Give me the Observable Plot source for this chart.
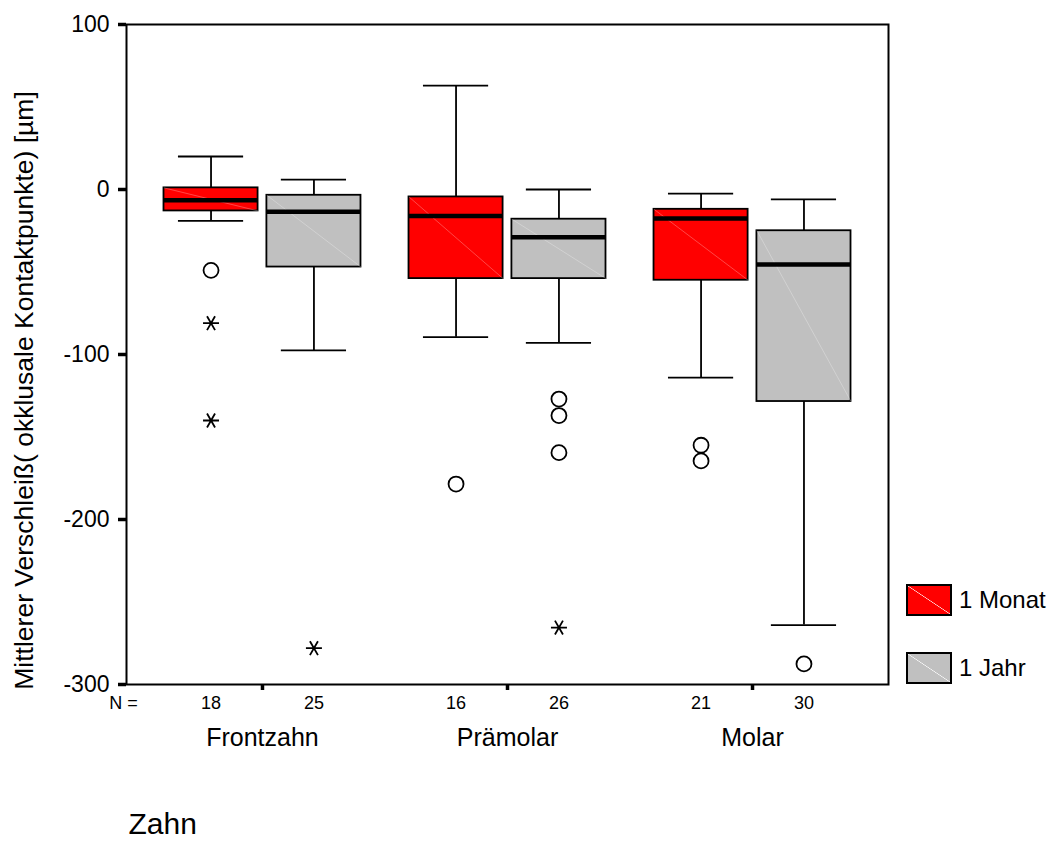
<!DOCTYPE html>
<html>
<head>
<meta charset="utf-8">
<script src="https://cdn.jsdelivr.net/npm/d3@7"></script>
<script src="https://cdn.jsdelivr.net/npm/@observablehq/plot@0.6"></script>
<style>
  html, body { margin: 0; padding: 0; background: #fff; }
  #chart { position: relative; width: 1059px; height: 841px; font-family: "Liberation Sans", Arial, sans-serif; }
  #chart svg { display: block; }
  .legend-item { position: absolute; left: 906px; display: flex; align-items: center; }
  .swatch { width: 46px; height: 32px; box-sizing: border-box; border: 2px solid #000; }
  .legend-label { margin-left: 7px; font-size: 24px; color: #000; }
</style>
</head>
<body>
<div id="chart"></div>
<script>
// Tooth groups, time points and box summaries (µm), group-major order
const groups = ["Frontzahn", "Prämolar", "Molar"];
const periods = ["1 Monat", "1 Jahr"];
const periodColors = ["#ff0000", "#c0c0c0"];
const nCounts = [18, 25, 16, 26, 21, 30];
const upperWhisker = [20, 6, 63, 0, -2.5, -6];
const upperQuartile = [1, -3.5, -4.5, -18, -12, -25];
const medians = [-6.5, -13.5, -16, -29, -17.5, -45.5];
const lowerQuartile = [-13, -47, -54, -54, -55, -128.5];
const lowerWhisker = [-19, -97.5, -89.5, -93, -114, -264];
const outliers = [[-49], [], [-178.5], [-127, -137, -159.5], [-155, -164.5], [-287.5]];
const extremes = [[-81, -140], [-278], [], [-265.5], [], []];
const yTicks = [100, 0, -100, -200, -300];
const yTitle = "Mittlerer Verschleiß( okklusale Kontaktpunkte) [µm]";
const xTitle = "Zahn";

// Layout of boxes inside each group (in group units)
const OFFSET = 0.21, HALF = 0.192, CAP = 0.133;

const boxes = nCounts.map((n, i) => {
  const g = Math.floor(i / 2), s = i % 2;
  return {
    group: groups[g], period: periods[s], pos: g + (s ? OFFSET : -OFFSET), n,
    hi: upperWhisker[i], q3: upperQuartile[i], median: medians[i],
    q1: lowerQuartile[i], lo: lowerWhisker[i]
  };
});
const outlierPoints = boxes.flatMap((b, i) => outliers[i].map(v => ({pos: b.pos, value: v})));
const extremePoints = boxes.flatMap((b, i) => extremes[i].map(v => ({pos: b.pos, value: v})));

// Six-armed asterisk with a horizontal arm
const asterisk = {
  draw(context, size) {
    const r = Math.sqrt(size / Math.PI);
    const a = r * 0.5, b = r * 0.866;
    context.moveTo(-r, 0); context.lineTo(r, 0);
    context.moveTo(-a, -b); context.lineTo(a, b);
    context.moveTo(-a, b); context.lineTo(a, -b);
  }
};

const font = "'Liberation Sans', Arial, sans-serif";

const chart = Plot.plot({
  width: 1059,
  height: 841,
  marginLeft: 126,
  marginRight: 171,
  marginTop: 24,
  marginBottom: 157,
  style: {fontFamily: font, background: "#fff", color: "#000"},
  x: {type: "linear", domain: [-0.555, 2.555]},
  y: {domain: [-300, 100]},
  color: {domain: periods, range: periodColors},
  marks: [
    // whiskers
    Plot.ruleX(boxes, {x: "pos", y1: "q3", y2: "hi", stroke: "#000", strokeWidth: 1.8}),
    Plot.ruleX(boxes, {x: "pos", y1: "q1", y2: "lo", stroke: "#000", strokeWidth: 1.8}),
    Plot.ruleY(boxes, {y: "hi", x1: d => d.pos - CAP, x2: d => d.pos + CAP, stroke: "#000", strokeWidth: 1.8}),
    Plot.ruleY(boxes, {y: "lo", x1: d => d.pos - CAP, x2: d => d.pos + CAP, stroke: "#000", strokeWidth: 1.8}),
    // boxes
    Plot.rect(boxes, {x1: d => d.pos - HALF, x2: d => d.pos + HALF, y1: "q1", y2: "q3", fill: "period", stroke: "#000", strokeWidth: 1.8}),
    Plot.link(boxes, {x1: d => d.pos - HALF, y1: "q3", x2: d => d.pos + HALF, y2: "q1", stroke: "#fff", strokeOpacity: 0.35, strokeWidth: 0.8}),
    // medians
    Plot.ruleY(boxes, {y: "median", x1: d => d.pos - HALF, x2: d => d.pos + HALF, stroke: "#000", strokeWidth: 4.5}),
    // outliers and extreme values
    Plot.dot(outlierPoints, {x: "pos", y: "value", r: 7.5, stroke: "#000", strokeWidth: 1.8, fill: "none"}),
    Plot.dot(extremePoints, {x: "pos", y: "value", r: 8, symbol: asterisk, stroke: "#000", strokeWidth: 1.8, fill: "none"}),
    // axes and frame
    Plot.axisY({ticks: yTicks, tickSize: 8, tickPadding: 9, tickFormat: d => String(d), strokeWidth: 3.5, fontSize: 23, label: null}),
    Plot.axisX({ticks: [0, 1, 2], tickSize: 6, tickFormat: () => "", strokeWidth: 3.5, label: null}),
    Plot.frame({stroke: "#000", strokeWidth: 2}),
    // case counts
    Plot.text(["N ="], {frameAnchor: "bottom-left", textAnchor: "middle", dx: -3, dy: 24, fontSize: 18}),
    Plot.text(boxes, {x: "pos", text: d => String(d.n), frameAnchor: "bottom", dy: 24, fontSize: 18}),
    // group labels and titles
    Plot.text(groups, {x: (d, i) => i, text: d => d, frameAnchor: "bottom", dy: 61, fontSize: 25}),
    Plot.text([xTitle], {frameAnchor: "bottom-left", textAnchor: "start", dx: 2, dy: 149, fontSize: 30}),
    Plot.text([yTitle], {frameAnchor: "left", textAnchor: "middle", rotate: -90, dx: -102, dy: 36, fontSize: 26.5})
  ]
});

const root = document.getElementById("chart");
root.appendChild(chart);

// Legend
const legendTops = [584, 652];
periods.forEach((p, i) => {
  const item = document.createElement("div");
  item.className = "legend-item";
  item.style.top = legendTops[i] + "px";
  const sw = document.createElement("div");
  sw.className = "swatch";
  const c = periodColors[i];
  sw.style.background = `linear-gradient(to top right, ${c} calc(50% - 0.6px), rgba(255,255,255,0.45) 50%, ${c} calc(50% + 0.6px))`;
  const lab = document.createElement("span");
  lab.className = "legend-label";
  lab.textContent = p;
  item.appendChild(sw);
  item.appendChild(lab);
  root.appendChild(item);
});
</script>
</body>
</html>
